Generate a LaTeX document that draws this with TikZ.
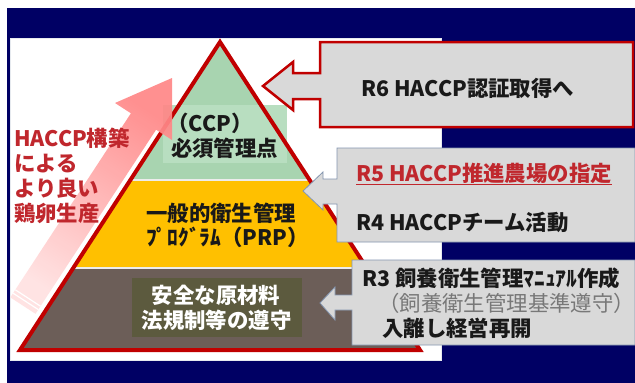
\documentclass[tikz,border=0pt]{standalone}
\usepackage{fontspec}
\setmainfont{Noto Sans CJK JP}
\definecolor{navy}{RGB}{0,0,100}
\definecolor{trired}{RGB}{192,0,0}
\definecolor{lgreen}{RGB}{168,212,176}
\definecolor{lgreenbox}{RGB}{184,222,192}
\definecolor{pyel}{RGB}{255,192,0}
\definecolor{pbrown}{RGB}{108,94,88}
\definecolor{polive}{RGB}{92,90,62}
\definecolor{boxgray}{RGB}{217,217,217}
\definecolor{boxedge}{RGB}{132,150,176}
\definecolor{txtred}{RGB}{192,39,45}
\definecolor{txtgray}{RGB}{120,120,120}
\definecolor{pinkA}{RGB}{255,135,135}
\definecolor{pinkB}{RGB}{255,225,225}
\begin{document}
\begin{tikzpicture}[x=1pt,y=-1pt,
  txt/.style={font=\fontsize{21.4}{25}\selectfont\bfseries, inner sep=0pt, text=black!90},
  sep/.style={draw=white!85!gray, line width=1.5pt},
  callout/.style={fill=boxgray, draw=boxedge, line width=0.8pt, line join=miter}]
\useasboundingbox (0,0) rectangle (635,383);
% background
\fill[white] (0,0) rectangle (635,383);
\fill[navy] (7,8) rectangle (635,383);
\fill[white, draw=white!80!boxedge, line width=0.8pt] (10,38) rectangle (441,360);
% pyramid layers
\coordinate (apex) at (220,42);
\coordinate (bl) at (20,350);
\coordinate (br) at (420,350);
\coordinate (gl) at (130.4,180);
\coordinate (gr) at (309.6,180);
\coordinate (yl) at (73.2,268);
\coordinate (yr) at (366.8,268);
\fill[lgreen] (apex) -- (gr) -- (gl) -- cycle;
\fill[pyel] (gl) -- (gr) -- (yr) -- (yl) -- cycle;
\fill[pbrown] (yl) -- (yr) -- (br) -- (bl) -- cycle;
\draw[sep] (gl) -- (gr);
\draw[sep] (yl) -- (yr);
\fill[lgreenbox] (163,105) rectangle (287,163);
\fill[polive] (132,278) rectangle (302,337);
\draw[trired, line width=4pt, line join=miter] (apex) -- (br) -- (bl) -- cycle;
% pink arrow
\shade[top color=pinkA, bottom color=pinkB, shading angle=-33, opacity=0.92]
  (172,78) -- (172,140) -- (156.1,129.7) -- (35.5,313.8) -- (10.3,297.4)
  -- (130.9,113.3) -- (115,103) -- cycle;
\draw[white, line width=1.2pt] (13.1,293.2) -- (38.3,309.6);
\draw[white, line width=1.2pt] (15.3,289.8) -- (40.5,306.2);
% pyramid texts
\node[txt, anchor=base] (ccp) at (210,131) {（CCP）};
\node[txt, anchor=base] (ccp2) at (224.5,156) {必須管理点};
\node[txt, anchor=base west] (prp1) at (146,221) {一般的衛生管理};
\node[txt, anchor=base west] (prp2) at (146,245) {ﾌﾟﾛｸﾞﾗﾑ（PRP）};
\node[txt, anchor=base, text=white] (base1) at (216,303) {安全な原材料};
\node[txt, anchor=base, text=white] (base2) at (216.5,328) {法規制等の遵守};
% left red text
\node[txt, anchor=base west, text=txtred] (l1) at (14,146) {HACCP構築};
\node[txt, anchor=base west, text=txtred] (l2) at (14,171) {による};
\node[txt, anchor=base west, text=txtred] (l3) at (14,196) {より良い};
\node[txt, anchor=base west, text=txtred] (l4) at (14,221) {鶏卵生産};
% R6 callout
\draw[callout, draw=trired, line width=2.5pt]
  (320,42) -- (633,42) -- (633,127) -- (320,127) -- (320,99) -- (293,99)
  -- (293,110) -- (263,86) -- (293,62) -- (293,73) -- (320,73) -- cycle;
\node[txt, anchor=base west] (r6) at (361,96) {R6 HACCP認証取得へ};
% R5/R4 callout
\draw[callout]
  (337,148) -- (635,148) -- (635,242) -- (337,242) -- (337,204) -- (323,204)
  -- (323,210) -- (303,191) -- (323,172) -- (323,179) -- (337,179) -- cycle;
\node[txt, anchor=base west, text=txtred] (r5) at (356,181) {R5 HACCP推進農場の指定};
\draw[txtred, line width=1.5pt] ([yshift=-3.5pt]r5.base west) -- ([yshift=-3.5pt]r5.base east);
\node[txt, anchor=base west] (r4) at (356,230) {R4 HACCPチーム活動};
% R3 callout
\draw[callout]
  (352,260) -- (635,260) -- (635,345) -- (352,345) -- (352,310) -- (335,310)
  -- (335,320) -- (320,303) -- (335,287) -- (335,295) -- (352,295) -- cycle;
\node[txt, anchor=base west] (r3) at (362,286) {R3 飼養衛生管理ﾏﾆｭｱﾙ作成};
\node[txt, anchor=base west, font=\fontsize{21.4}{25}\selectfont, text=txtgray] (r3b) at (378,311) {（飼養衛生管理基準遵守）};
\node[txt, anchor=base west] (r3c) at (382,336) {入離し経営再開};
\end{tikzpicture}
\end{document}
